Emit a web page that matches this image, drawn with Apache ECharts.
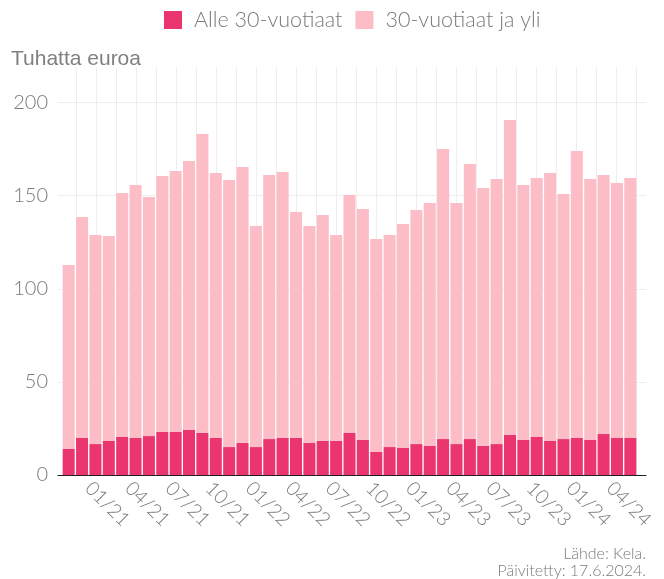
<!DOCTYPE html>
<html>
<head>
<meta charset="utf-8">
<script src="https://cdn.jsdelivr.net/npm/echarts@6/dist/echarts.min.js"></script>
<style>
  html, body { margin: 0; padding: 0; background: #fff; }
  #chart { width: 664px; height: 579px; }
</style>
</head>
<body>
<div id="chart"></div>
<script>
// months 11/20 .. 05/24
const months = [
    '11/20', '12/20',
    '01/21', '02/21', '03/21', '04/21', '05/21', '06/21', '07/21', '08/21', '09/21', '10/21', '11/21', '12/21',
    '01/22', '02/22', '03/22', '04/22', '05/22', '06/22', '07/22', '08/22', '09/22', '10/22', '11/22', '12/22',
    '01/23', '02/23', '03/23', '04/23', '05/23', '06/23', '07/23', '08/23', '09/23', '10/23', '11/23', '12/23',
    '01/24', '02/24', '03/24', '04/24', '05/24'
];

// thousand euros, under 30 years
const under30 = [
    14.0, 19.9,
    16.6, 18.3, 20.4, 19.9, 20.9, 23.1, 23.1, 24.2, 22.6, 19.9, 15.0, 17.2,
    15.0, 19.3, 19.9, 19.9, 17.2, 18.3, 18.3, 22.6, 18.8, 12.4, 15.0, 14.5,
    16.6, 15.6, 19.3, 16.6, 19.3, 15.6, 16.6, 21.5, 18.8, 20.4, 18.3, 19.3,
    19.9, 18.8, 22.0, 19.9, 19.9
];

// thousand euros, 30 years and over
const over30 = [
    98.8, 118.7,
    112.3, 110.1, 131.0, 135.8, 128.4, 137.5, 140.2, 144.4, 160.5, 142.3, 143.4, 148.2,
    118.7, 141.8, 142.8, 121.3, 116.5, 121.3, 110.6, 127.8, 124.1, 114.3, 113.9, 120.3,
    125.7, 130.5, 155.8, 129.5, 147.7, 138.5, 142.4, 169.2, 136.9, 139.1, 143.9, 131.6,
    154.1, 140.2, 139.1, 136.9, 139.6
];

const seriesNames = ['Alle 30-vuotiaat', '30-vuotiaat ja yli'];
const yTicks = [0, 200, 50]; // min, max, step
const footer = ['Lähde: Kela.', 'Päivitetty: 17.6.2024.'];

const chart = echarts.init(document.getElementById('chart'));

const textGray = '#7a7a7a';
const gridGray = '#eeeeee';
const lato = 'Lato';

let option = {
    animation: false,
    title: {
        text: 'Tuhatta euroa',
        left: 11,
        top: 49,
        padding: 0,
        textStyle: {
            fontFamily: 'Liberation Sans',
            fontSize: 21,
            fontWeight: 'normal',
            color: '#808080'
        }
    },
    legend: {
        left: 164,
        top: 9,
        padding: 0,
        itemWidth: 18,
        itemHeight: 18,
        itemGap: 13,
        icon: 'rect',
        data: seriesNames,
        textStyle: {
            fontFamily: lato,
            fontWeight: 300,
            fontSize: 21.5,
            color: textGray,
            padding: [0, 0, 0, 7]
        }
    },
    grid: [
        // bars
        { left: 62, width: 575, top: 102.6, height: 372.4 },
        // horizontal lines + axis line
        { left: 58, width: 588, top: 102.6, height: 372.4 },
        // vertical lines
        { left: 76, width: 560, top: 67, height: 408 }
    ],
    xAxis: [
        {
            type: 'category',
            gridIndex: 0,
            data: months,
            axisLine: { show: false },
            axisTick: { show: false },
            axisLabel: {
                interval: function (idx) {
                    return idx % 3 === 2;
                },
                rotate: -45,
                margin: 3,
                verticalAlign: 'top',
                fontFamily: lato,
                fontWeight: 300,
                fontSize: 19.5,
                color: textGray
            }
        },
        {
            type: 'value',
            gridIndex: 1,
            min: 0,
            max: 1,
            axisLine: { show: true, onZero: false, lineStyle: { color: '#222', width: 1.2 } },
            axisTick: { show: false },
            axisLabel: { show: false },
            splitLine: { show: false }
        },
        {
            type: 'value',
            gridIndex: 2,
            min: 0,
            max: 28,
            interval: 1,
            axisLine: { show: false },
            axisTick: { show: false },
            axisLabel: { show: false },
            splitLine: { show: true, lineStyle: { color: gridGray, width: 1 } }
        }
    ],
    yAxis: [
        {
            type: 'value',
            gridIndex: 0,
            min: yTicks[0],
            max: yTicks[1],
            interval: yTicks[2],
            axisLine: { show: false },
            axisTick: { show: false },
            axisLabel: { show: false },
            splitLine: { show: false }
        },
        {
            type: 'value',
            gridIndex: 1,
            min: yTicks[0],
            max: yTicks[1],
            interval: yTicks[2],
            axisLine: { show: false },
            axisTick: { show: false },
            axisLabel: {
                margin: 10,
                fontFamily: lato,
                fontWeight: 300,
                fontSize: 20,
                color: textGray
            },
            splitLine: { show: true, lineStyle: { color: gridGray, width: 1 } }
        },
        {
            type: 'value',
            gridIndex: 2,
            min: 0,
            max: 1,
            show: false
        }
    ],
    graphic: footer.map(function (line, i) {
        return {
            type: 'text',
            right: 18,
            top: 546 + i * 17,
            style: {
                text: line,
                fontFamily: lato,
                fontWeight: 300,
                fontSize: 16,
                fill: textGray
            }
        };
    }),
    series: [
        {
            name: seriesNames[0],
            type: 'bar',
            stack: 'total',
            xAxisIndex: 0,
            yAxisIndex: 0,
            barCategoryGap: '10%',
            itemStyle: { color: '#eb356f' },
            data: under30
        },
        {
            name: seriesNames[1],
            type: 'bar',
            stack: 'total',
            xAxisIndex: 0,
            yAxisIndex: 0,
            barCategoryGap: '10%',
            itemStyle: { color: '#fdbdc6' },
            data: over30
        }
    ]
};

option && chart.setOption(option);
</script>
</body>
</html>
